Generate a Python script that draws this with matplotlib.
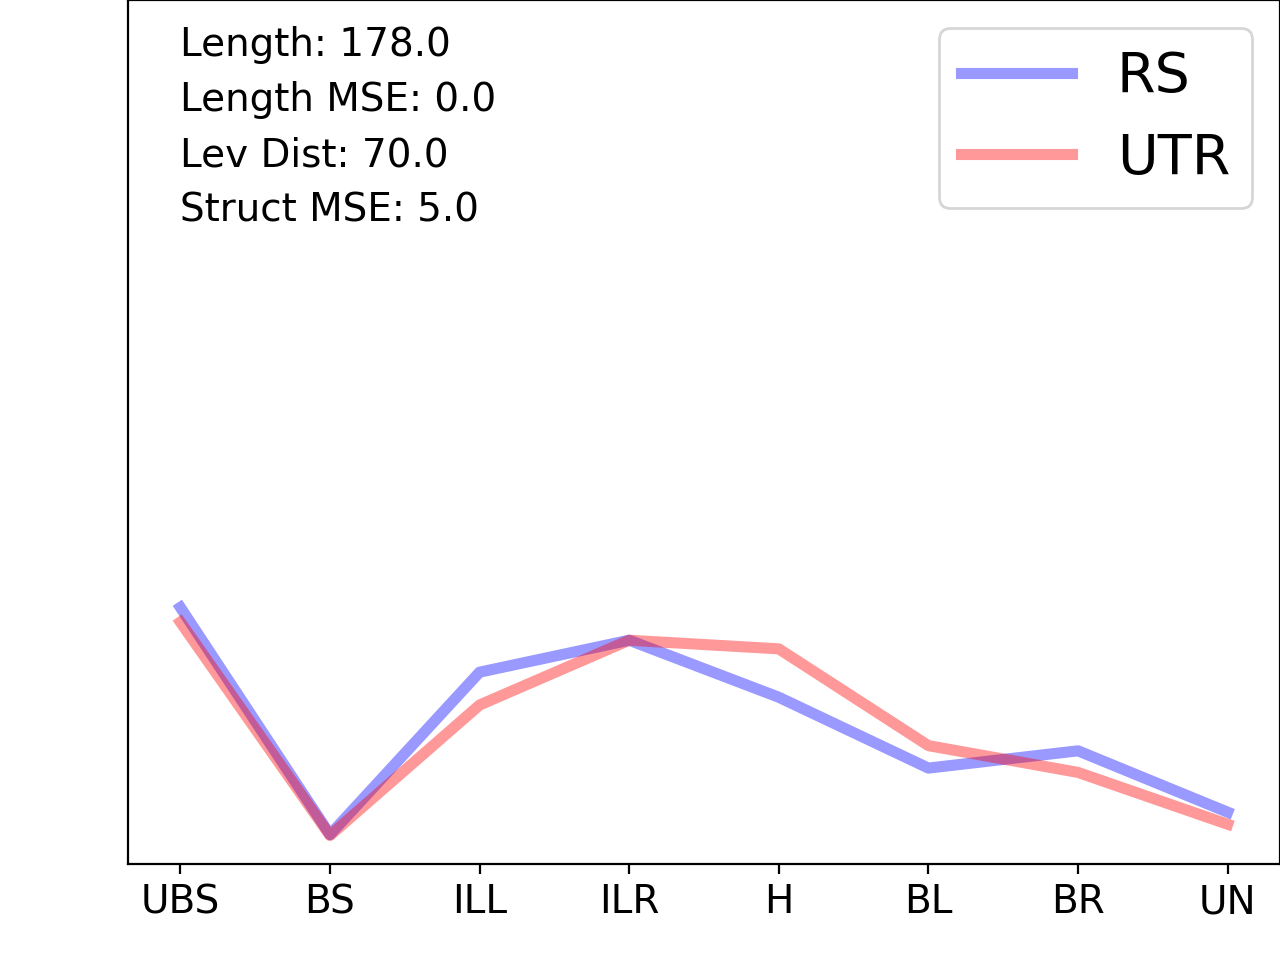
import matplotlib
matplotlib.use("Agg")
import matplotlib.pyplot as plt

categories = ["UBS", "BS", "ILL", "ILR", "H", "BL", "BR", "UN"]
rs_values = [0.297, 0.034, 0.222, 0.259, 0.193, 0.111, 0.131, 0.060]
utr_values = [0.280, 0.033, 0.184, 0.259, 0.249, 0.137, 0.106, 0.046]
info_lines = ["Length: 178.0", "Length MSE: 0.0", "Lev Dist: 70.0", "Struct MSE: 5.0"]

fig = plt.figure(figsize=(6.4, 4.8), dpi=200)
ax = fig.add_axes([0.1, 0.1, 0.9, 0.9])

x = list(range(len(categories)))
ax.plot(x, rs_values, color="b", alpha=0.4, lw=4, label="RS")
ax.plot(x, utr_values, color="r", alpha=0.4, lw=4, label="UTR")

ax.set_ylim(0, 1)
ax.set_yticks([])
ax.set_xticks(x)
ax.set_xticklabels(categories, fontsize=14)

ax.text(0.045, 0.97, "\n".join(info_lines), transform=ax.transAxes,
        fontsize=14, va="top", ha="left", linespacing=1.575)

ax.legend(loc="upper right", fontsize=20)

fig.savefig("out.png", dpi=200)
